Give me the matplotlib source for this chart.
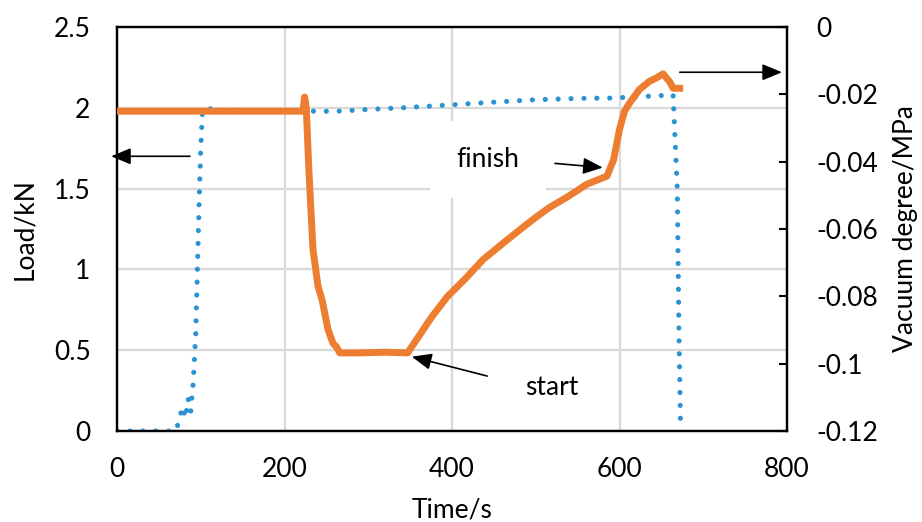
import matplotlib
matplotlib.use("Agg")
import matplotlib.pyplot as plt

plt.rcParams['font.family'] = ['Lato', 'DejaVu Sans']

# Load (left axis, kN) - blue dotted
load_t = [0, 70, 74, 78, 82, 85, 88, 91, 94, 96, 98, 100, 102, 105, 120, 225, 260, 300, 340, 392,
          450, 500, 550, 589, 630, 664, 669, 671, 673]
load_v = [0, 0, 0.06, 0.15, 0.08, 0.2, 0.12, 0.3, 0.6, 1.0, 1.4, 1.75, 1.97, 2.0, 1.985, 1.98, 1.978,
          1.99, 2.0, 2.016, 2.035, 2.05, 2.058, 2.06, 2.07, 2.08, 1.5, 0.6, 0.0]

# Vacuum degree (right axis, MPa) - orange
vac_t = [0, 222, 224, 226, 229, 234, 240, 245, 252, 258, 262, 266, 290, 320, 347, 360, 375, 394,
         415, 437, 467, 497, 517, 537, 561, 585, 593, 600, 606, 612, 624, 636, 645, 652, 660, 664, 676]
vac_v = [-0.0250, -0.0250, -0.0208, -0.0240, -0.0420, -0.0660, -0.0770, -0.0812, -0.0899, -0.0940,
         -0.0950, -0.0968, -0.0968, -0.0966, -0.0968, -0.0920, -0.0864, -0.0802, -0.0750, -0.0691,
         -0.0630, -0.0571, -0.0535, -0.0506, -0.0467, -0.0443, -0.0394, -0.0304, -0.0250, -0.0226,
         -0.0185, -0.0161, -0.0150, -0.0139, -0.0163, -0.0182, -0.0182]

x_ticks = [0, 200, 400, 600, 800]
left_ticks = [0, 0.5, 1, 1.5, 2, 2.5]
left_tick_labels = ['0', '0.5', '1', '1.5', '2', '2.5']
right_ticks = [-0.12, -0.1, -0.08, -0.06, -0.04, -0.02, 0]
right_tick_labels = ['-0.12', '-0.1', '-0.08', '-0.06', '-0.04', '-0.02', '0']

fig = plt.figure(figsize=(9.22, 5.22), dpi=100)
ax = fig.add_axes([117/922, 1-431/522, 670/922, 404/522])
ax2 = ax.twinx()

blue = '#2A93D1'
orange = '#ED7D31'

ax.plot(load_t, load_v, color=blue, lw=3.7, linestyle=(0, (0.01, 2.5)),
        dash_capstyle='round', zorder=3)
ax2.plot(vac_t, vac_v, color=orange, lw=5.0, solid_capstyle='butt', solid_joinstyle='round', zorder=3)

ax.set_xlim(0, 800)
ax.set_ylim(0, 2.5)
ax2.set_ylim(-0.12, 0)

ax.set_xticks(x_ticks)
ax.set_xticklabels([str(v) for v in x_ticks])
ax.set_yticks(left_ticks)
ax.set_yticklabels(left_tick_labels)
ax2.set_yticks(right_ticks)
ax2.set_yticklabels(right_tick_labels)

ax.grid(True, color='#D9D9D9', lw=1.6)
ax.set_axisbelow(True)

fs = 19
ax.tick_params(axis='x', length=0, labelsize=fs, pad=19)
ax.tick_params(axis='y', length=0, labelsize=fs, pad=19)
ax2.tick_params(axis='y', direction='in', length=6, width=1.5, labelsize=fs, pad=21)
for lab in ax2.get_yticklabels():
    lab.set_horizontalalignment('left')

for a in (ax, ax2):
    for s in a.spines.values():
        s.set_linewidth(1.6)
        s.set_color('black')

ax.set_xlabel('Time/s', fontsize=fs, labelpad=11)
ax.set_ylabel('Load/kN', fontsize=fs, labelpad=12)
ax2.set_ylabel('Vacuum degree/MPa', fontsize=fs, labelpad=11)

arrow_kw = dict(arrowstyle='-|>,head_length=1.2,head_width=0.5', color='black', lw=1.2,
                shrinkA=0, shrinkB=0)
# left arrow (load axis)
ax.annotate('', xy=(-7, 1.70), xytext=(87, 1.70), arrowprops=arrow_kw, annotation_clip=False)
# right arrow (vacuum axis)
ax.annotate('', xy=(794, 2.22), xytext=(672, 2.22), arrowprops=arrow_kw, annotation_clip=False)

# finish annotation
ax.text(443, 1.68, 'finish', fontsize=fs, ha='center', va='center', zorder=4,
        bbox=dict(facecolor='white', edgecolor='none', pad=19))
ax.annotate('', xy=(580, 1.63), xytext=(523, 1.656), arrowprops=arrow_kw, zorder=5)
# start annotation
ax.text(519, 0.27, 'start', fontsize=fs, ha='center', va='center', zorder=4)
ax.annotate('', xy=(352, 0.46), xytext=(442, 0.34), arrowprops=arrow_kw, zorder=5)

fig.savefig('out.png', dpi=100)
